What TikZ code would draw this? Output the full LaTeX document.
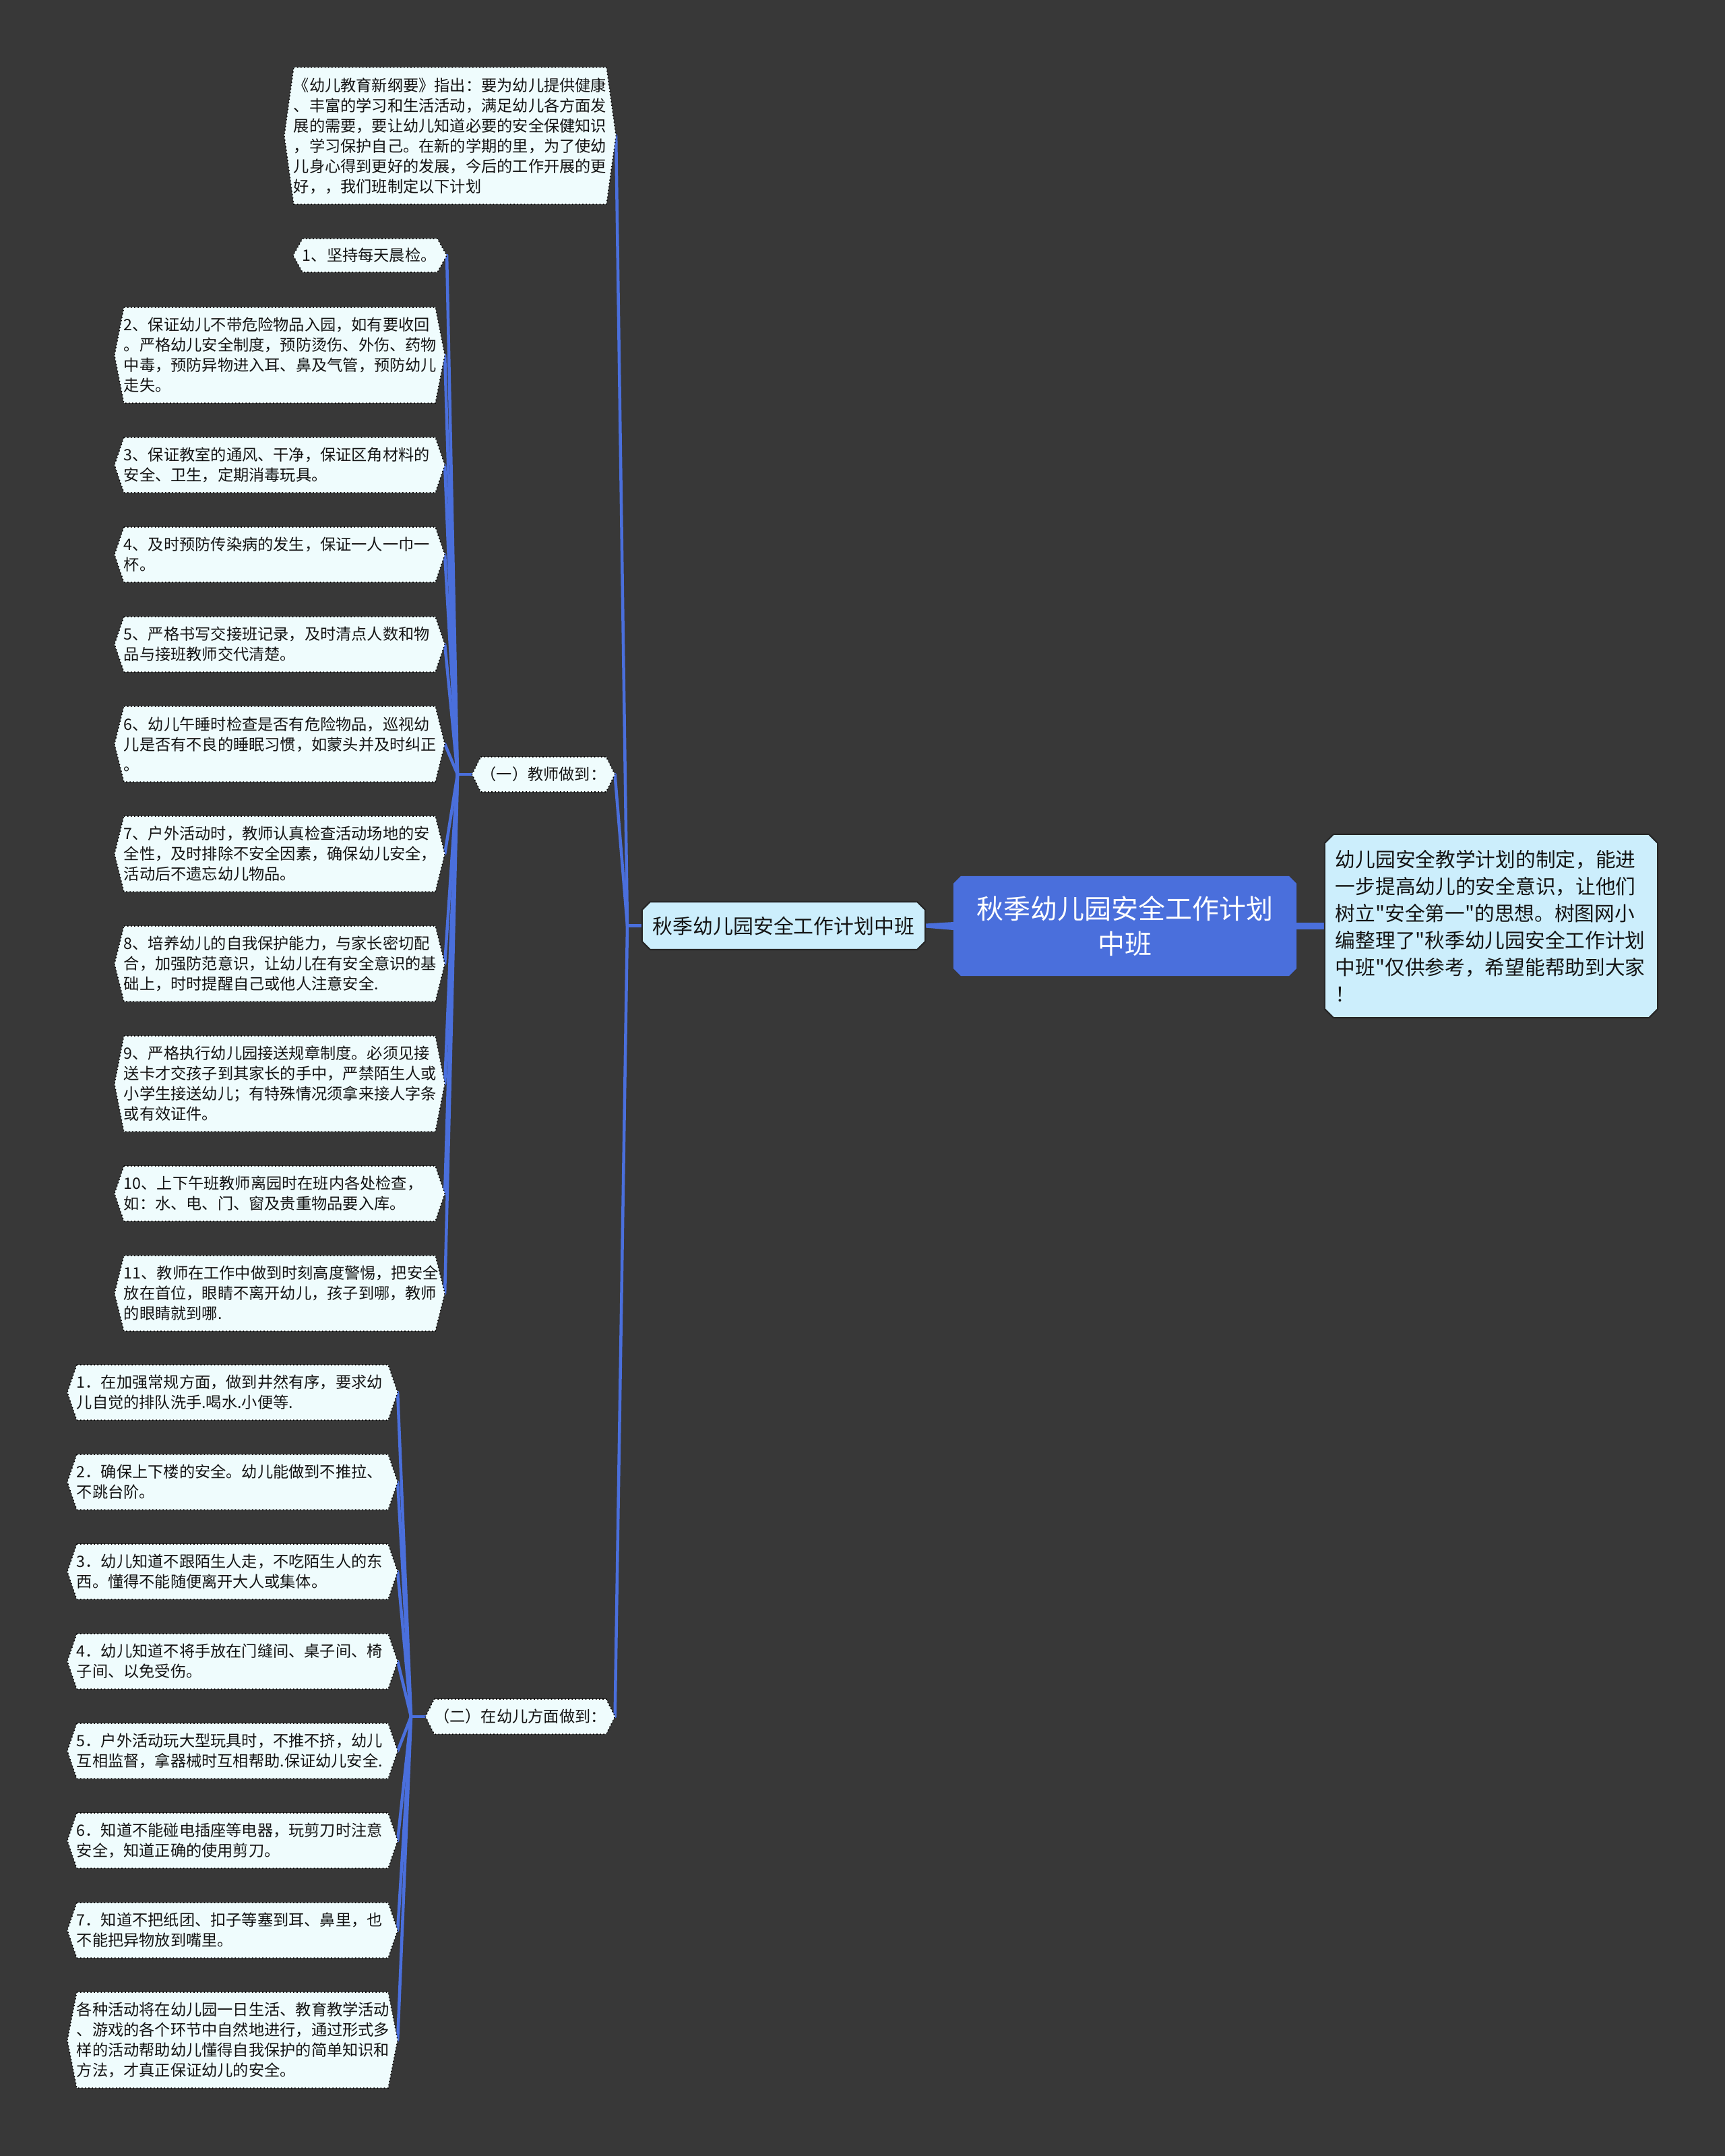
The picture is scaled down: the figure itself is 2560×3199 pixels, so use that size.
\documentclass[tikz,border=0pt]{standalone}
\usepackage{fontspec}
\newfontfamily\cjk{Noto Sans CJK SC}
\usetikzlibrary{calc}
\pgfdeclarelayer{links}
\pgfdeclarelayer{boxes}
\pgfsetlayers{links,boxes,main}
\definecolor{bgc}{HTML}{383838}
\definecolor{linkc}{HTML}{4A6FDC}
\definecolor{rootc}{HTML}{4A6FDC}
\definecolor{lonec}{HTML}{CCEEFC}
\definecolor{itemc}{HTML}{EFFCFD}
\definecolor{txtc}{HTML}{141414}
\newcommand\mkhex[2]{%
  \begin{pgfonlayer}{boxes}
  \path[hexpath] (#1.north west) -- (#1.north east) -- ($(#1.east)+(#2,0)$) -- (#1.south east) -- (#1.south west) -- ($(#1.west)+(-#2,0)$) -- cycle;
  \end{pgfonlayer}
  \coordinate (#1-R) at ($(#1.east)+(#2,0)$);
  \coordinate (#1-L) at ($(#1.west)+(-#2,0)$);}
\newcommand\mkcham[3]{%
  \begin{pgfonlayer}{boxes}
  \path[#3] ($(#1.north west)+(#2,0)$) -- ($(#1.north east)+(-#2,0)$) -- ($(#1.north east)+(0,#2)$) -- ($(#1.south east)+(0,-#2)$) -- ($(#1.south east)+(-#2,0)$) -- ($(#1.south west)+(#2,0)$) -- ($(#1.south west)+(0,-#2)$) -- ($(#1.north west)+(0,#2)$) -- cycle;
  \end{pgfonlayer}}
\tikzset{
  every node/.style={outer sep=0pt, inner sep=0pt, text=txtc},
  item/.style={text width=4.62cm, align=left, font=\cjk\fontsize{6.6pt}{8.53pt}\selectfont},
  subhead/.style={align=center, font=\cjk\fontsize{6.6pt}{8.53pt}\selectfont, minimum height=0.52cm},
  lines1/.style={minimum height=0.50cm},
  lines2/.style={minimum height=0.82cm},
  lines3/.style={minimum height=1.12cm},
  lines4/.style={minimum height=1.42cm},
  lines6/.style={minimum height=2.03cm},
  hexpath/.style={fill=itemc, draw=black, densely dotted, line width=0.45pt},
  lonepath/.style={fill=lonec, draw=black!85, line width=0.6pt},
  rootpath/.style={fill=rootc},
  link/.style={draw=linkc, line width=0.045cm, line cap=round, line join=round},
}
\begin{document}
\begin{tikzpicture}[x=0.01cm, y=-0.01cm]
\begin{pgfonlayer}{links}
\fill[bgc] (0,0) rectangle (2560,3199);
\end{pgfonlayer}

% central nodes
\node[minimum width=5.09cm, minimum height=1.48cm, align=center, text=white,
  font=\cjk\fontsize{11.38pt}{14.8pt}\selectfont] (root) at (1669.5,1374)
  {秋季幼儿园安全工作计划\\中班};
\mkcham{root}{11}{rootpath}

\node[minimum width=4.94cm, minimum height=2.72cm, text width=4.62cm, inner xsep=0.16cm, align=left,
  font=\cjk\fontsize{8.45pt}{11.38pt}\selectfont] (desc) at (2213,1374)
  {幼儿园安全教学计划的制定，能进\\一步提高幼儿的安全意识，让他们\\树立"安全第一"的思想。树图网小\\编整理了"秋季幼儿园安全工作计划\\中班"仅供参考，希望能帮助到大家\\！};
\mkcham{desc}{13}{lonepath}

\node[minimum width=4.20cm, minimum height=0.71cm,
  font=\cjk\fontsize{8.5pt}{10pt}\selectfont] (l1) at (1163,1373.5)
  {秋季幼儿园安全工作计划中班};
\mkcham{l1}{12}{lonepath}

% first-level children
\node[item, text width=4.64cm, lines6] (intro) at (668,201.5)
  {《幼儿教育新纲要》指出：要为幼儿提供健康\\、丰富的学习和生活活动，满足幼儿各方面发\\展的需要，要让幼儿知道必要的安全保健知识\\，学习保护自己。在新的学期的里，为了使幼\\儿身心得到更好的发展，今后的工作开展的更\\好，，我们班制定以下计划};
\mkhex{intro}{14}

\node[subhead, minimum width=1.86cm] (g1) at (806.5,1149) {（一）教师做到：};
\mkhex{g1}{13}
\node[subhead, minimum width=2.54cm] (g2) at (772,2547) {（二）在幼儿方面做到：};
\mkhex{g2}{13}

% teacher items
\node[item, text width=2.0cm, lines1] (t1) at (549,379) {1、坚持每天晨检。};
\node[item, lines4] (t2) at (415,527) {2、保证幼儿不带危险物品入园，如有要收回\\。严格幼儿安全制度，预防烫伤、外伤、药物\\中毒，预防异物进入耳、鼻及气管，预防幼儿\\走失。};
\node[item, lines2] (t3) at (415,690) {3、保证教室的通风、干净，保证区角材料的\\安全、卫生，定期消毒玩具。};
\node[item, lines2] (t4) at (415,823) {4、及时预防传染病的发生，保证一人一巾一\\杯。};
\node[item, lines2] (t5) at (415,956) {5、严格书写交接班记录，及时清点人数和物\\品与接班教师交代清楚。};
\node[item, lines3] (t6) at (415,1104) {6、幼儿午睡时检查是否有危险物品，巡视幼\\儿是否有不良的睡眠习惯，如蒙头并及时纠正\\。};
\node[item, lines3] (t7) at (415,1267) {7、户外活动时，教师认真检查活动场地的安\\全性，及时排除不安全因素，确保幼儿安全，\\活动后不遗忘幼儿物品。};
\node[item, lines3] (t8) at (415,1430) {8、培养幼儿的自我保护能力，与家长密切配\\合，加强防范意识，让幼儿在有安全意识的基\\础上，时时提醒自己或他人注意安全.};
\node[item, lines4] (t9) at (415,1608) {9、严格执行幼儿园接送规章制度。必须见接\\送卡才交孩子到其家长的手中，严禁陌生人或\\小学生接送幼儿；有特殊情况须拿来接人字条\\或有效证件。};
\node[item, lines2] (t10) at (415,1771) {10、上下午班教师离园时在班内各处检查，\\如：水、电、门、窗及贵重物品要入库。};
\node[item, lines3] (t11) at (415,1919) {11、教师在工作中做到时刻高度警惕，把安全\\放在首位，眼睛不离开幼儿，孩子到哪，教师\\的眼睛就到哪.};
\foreach \n in {t1,t2,t3,t4,t5,t6,t7,t8,t9,t10,t11} {\mkhex{\n}{14}}

% children items
\node[item, lines2] (k1) at (345,2066) {1．在加强常规方面，做到井然有序，要求幼\\儿自觉的排队洗手.喝水.小便等.};
\node[item, lines2] (k2) at (345,2199) {2．确保上下楼的安全。幼儿能做到不推拉、\\不跳台阶。};
\node[item, lines2] (k3) at (345,2332) {3．幼儿知道不跟陌生人走，不吃陌生人的东\\西。懂得不能随便离开大人或集体。};
\node[item, lines2] (k4) at (345,2465) {4．幼儿知道不将手放在门缝间、桌子间、椅\\子间、以免受伤。};
\node[item, lines2] (k5) at (345,2598) {5．户外活动玩大型玩具时，不推不挤，幼儿\\互相监督，拿器械时互相帮助.保证幼儿安全.};
\node[item, lines2] (k6) at (345,2731) {6．知道不能碰电插座等电器，玩剪刀时注意\\安全，知道正确的使用剪刀。};
\node[item, lines2] (k7) at (345,2864) {7．知道不把纸团、扣子等塞到耳、鼻里，也\\不能把异物放到嘴里。};
\node[item, lines4] (k8) at (345,3027) {各种活动将在幼儿园一日生活、教育教学活动\\、游戏的各个环节中自然地进行，通过形式多\\样的活动帮助幼儿懂得自我保护的简单知识和\\方法，才真正保证幼儿的安全。};
\foreach \n in {k1,k2,k3,k4,k5,k6,k7,k8} {\mkhex{\n}{14}}

% junctions
\coordinate (j0) at (931,1373.5);
\coordinate (j1) at (679,1149);
\coordinate (j2) at (610,2547);

% connectors
\begin{pgfonlayer}{links}
\fill[linkc] ($(root.west)+(0,-6)$) -- ($(l1.east)+(0,-3)$) -- ($(l1.east)+(0,3)$) -- ($(root.west)+(0,6)$) -- cycle;
\fill[linkc] ($(root.east)+(0,-5)$) -- ($(desc.west)+(0,-5)$) -- ($(desc.west)+(0,5)$) -- ($(root.east)+(0,5)$) -- cycle;
\draw[link] (l1.west) -- (j0);
\foreach \n in {intro,g1,g2} {\draw[link] (j0) -- (\n-R);}
\draw[link] (g1-L) -- (j1);
\foreach \n in {t1,t2,t3,t4,t5,t6,t7,t8,t9,t10,t11} {\draw[link] (j1) -- (\n-R);}
\draw[link] (g2-L) -- (j2);
\foreach \n in {k1,k2,k3,k4,k5,k6,k7,k8} {\draw[link] (j2) -- (\n-R);}
\end{pgfonlayer}
\end{tikzpicture}
\end{document}
